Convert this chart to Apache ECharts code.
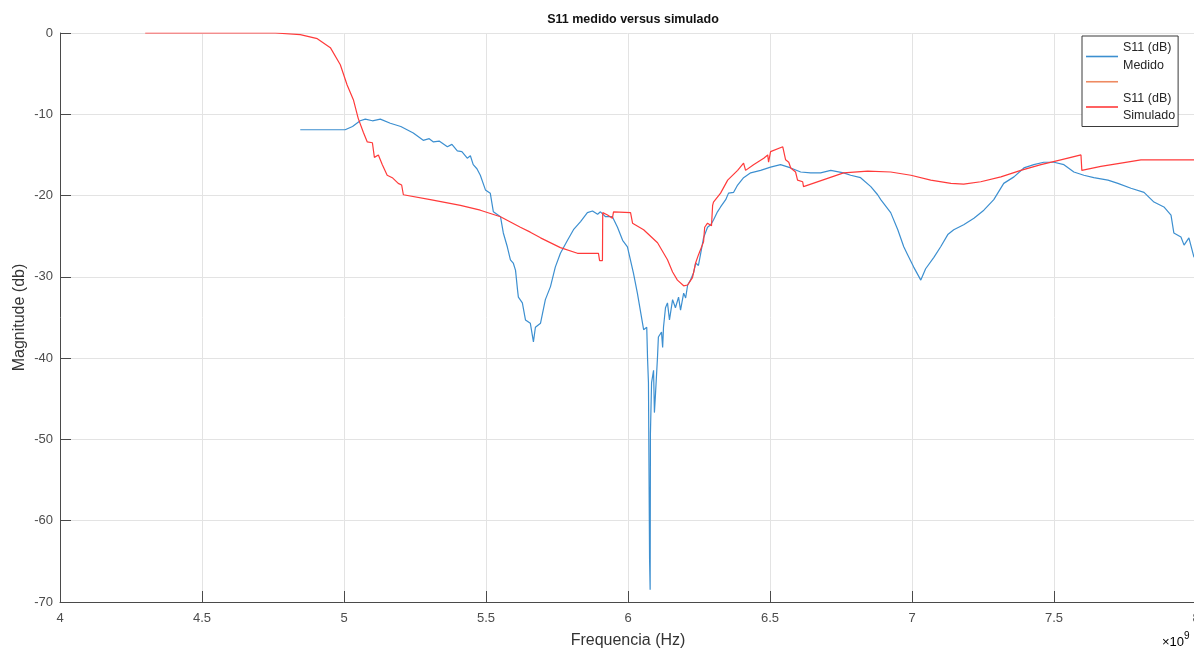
<!DOCTYPE html>
<html>
<head>
<meta charset="utf-8">
<title>S11 medido versus simulado</title>
<script src="https://cdn.jsdelivr.net/npm/echarts@6/dist/echarts.min.js"></script>
<style>
  html, body { margin: 0; padding: 0; background: #ffffff; }
  #chart { width: 1194px; height: 649px; }
</style>
</head>
<body>
<div id="chart"></div>
<script>
// Measured S11 (frequency in GHz, magnitude in dB)
const measFreq = [4.846, 5.004, 5.030, 5.057, 5.075, 5.100, 5.128, 5.163, 5.200, 5.244,
  5.279, 5.300, 5.315, 5.335, 5.364, 5.380, 5.399, 5.415, 5.434, 5.445,
  5.455, 5.468, 5.480, 5.498, 5.515, 5.526, 5.551, 5.561, 5.575, 5.586,
  5.596, 5.604, 5.611, 5.614, 5.628, 5.639, 5.656, 5.667, 5.674, 5.692,
  5.709, 5.727, 5.744, 5.762, 5.787, 5.808, 5.833, 5.857, 5.875, 5.893,
  5.903, 5.921, 5.945, 5.963, 5.981, 5.998, 6.019, 6.033, 6.055, 6.066,
  6.069, 6.072, 6.076, 6.078, 6.079, 6.083, 6.090, 6.093, 6.097, 6.104,
  6.107, 6.118, 6.122, 6.125, 6.132, 6.139, 6.146, 6.157, 6.167, 6.178,
  6.185, 6.196, 6.203, 6.210, 6.220, 6.231, 6.238, 6.248, 6.256, 6.266,
  6.280, 6.291, 6.301, 6.315, 6.326, 6.344, 6.354, 6.372, 6.386, 6.407,
  6.432, 6.467, 6.502, 6.537, 6.573, 6.608, 6.643, 6.678, 6.714, 6.759,
  6.784, 6.819, 6.855, 6.879, 6.890, 6.925, 6.950, 6.971, 6.985, 7.006,
  7.031, 7.048, 7.077, 7.101, 7.126, 7.147, 7.182, 7.218, 7.253, 7.288,
  7.323, 7.359, 7.394, 7.429, 7.464, 7.500, 7.535, 7.570, 7.605, 7.640,
  7.690, 7.725, 7.771, 7.817, 7.852, 7.887, 7.912, 7.922, 7.947, 7.958,
  7.975, 7.993];
const measDb = [-11.9, -11.9, -11.5, -10.8, -10.6, -10.8, -10.6, -11.1, -11.5, -12.3,
  -13.2, -13.0, -13.4, -13.3, -14.0, -13.7, -14.5, -14.6, -15.4, -15.1,
  -16.2, -16.7, -17.5, -19.3, -19.7, -22.0, -22.6, -24.6, -26.3, -27.9,
  -28.3, -29.2, -31.6, -32.5, -33.2, -35.3, -35.7, -38.0, -36.2, -35.7,
  -32.8, -31.2, -28.8, -27.1, -25.5, -24.2, -23.2, -22.1, -21.9, -22.3,
  -22.0, -22.6, -22.6, -23.9, -25.5, -26.3, -29.5, -32.0, -36.5, -36.2,
  -40.2, -43.0, -64.8, -68.5, -49.2, -43.0, -41.5, -46.7, -44.3, -39.8,
  -37.4, -36.8, -38.7, -36.2, -33.8, -33.2, -35.3, -32.8, -33.8, -32.5,
  -34.1, -32.0, -32.6, -31.0, -30.4, -29.5, -28.3, -28.6, -27.1, -25.2,
  -23.9, -23.6, -23.0, -22.0, -21.4, -20.5, -19.7, -19.6, -18.7, -17.8,
  -17.2, -16.9, -16.5, -16.2, -16.6, -17.1, -17.2, -17.2, -16.9, -17.2,
  -17.5, -17.8, -18.9, -19.9, -20.5, -22.1, -24.2, -26.3, -27.3, -28.8,
  -30.4, -29.0, -27.6, -26.3, -24.8, -24.2, -23.6, -22.8, -21.8, -20.5,
  -18.5, -17.7, -16.6, -16.2, -15.9, -15.9, -16.2, -17.1, -17.5, -17.8,
  -18.1, -18.5, -19.1, -19.6, -20.8, -21.4, -22.4, -24.6, -25.1, -26.1,
  -25.2, -27.6];

// Simulated S11 (frequency in GHz, magnitude in dB)
const simFreq = [4.300, 4.758, 4.846, 4.906, 4.952, 4.987, 5.011, 5.033, 5.050, 5.068,
  5.082, 5.100, 5.107, 5.121, 5.135, 5.152, 5.170, 5.191, 5.203, 5.209,
  5.304, 5.410, 5.480, 5.551, 5.621, 5.656, 5.692, 5.762, 5.822, 5.896,
  5.900, 5.910, 5.911, 5.928, 5.945, 5.949, 6.009, 6.016, 6.055, 6.104,
  6.139, 6.157, 6.174, 6.196, 6.210, 6.227, 6.238, 6.248, 6.266, 6.270,
  6.280, 6.294, 6.298, 6.301, 6.326, 6.351, 6.386, 6.407, 6.414, 6.442,
  6.478, 6.492, 6.495, 6.502, 6.545, 6.555, 6.566, 6.573, 6.590, 6.597,
  6.615, 6.618, 6.759, 6.844, 6.925, 6.996, 7.066, 7.137, 7.182, 7.242,
  7.313, 7.383, 7.454, 7.524, 7.595, 7.598, 7.665, 7.736, 7.806, 7.922,
  8.000];
const simDb = [0.0, 0.0, -0.2, -0.7, -1.8, -3.9, -6.4, -8.2, -10.5, -12.2,
  -13.4, -13.5, -15.3, -15.0, -16.2, -17.5, -17.8, -18.5, -18.7, -19.9,
  -20.5, -21.2, -21.8, -22.6, -23.9, -24.5, -25.2, -26.4, -27.1, -27.1,
  -28.0, -28.0, -22.1, -22.4, -22.8, -22.0, -22.1, -23.4, -24.2, -25.8,
  -27.9, -29.4, -30.4, -31.1, -31.0, -30.1, -28.3, -27.3, -25.7, -23.9,
  -23.4, -23.7, -21.2, -20.8, -19.7, -18.1, -16.9, -16.0, -16.9, -16.2,
  -15.4, -15.0, -15.9, -14.6, -14.0, -15.6, -15.9, -16.6, -17.1, -18.1,
  -18.3, -18.9, -17.2, -17.0, -17.1, -17.5, -18.1, -18.5, -18.6, -18.3,
  -17.7, -16.9, -16.2, -15.6, -15.0, -16.9, -16.4, -16.0, -15.6, -15.6,
  -15.6];

// Axis ticks
const xTicks = { min: 4, max: 8, step: 0.5 };
const yTicks = { min: -70, max: 0, step: 10 };

const seriesNames = ['S11 (dB)\nMedido', ' ', 'S11 (dB)\nSimulado'];

const zip = (xs, ys) => xs.map((x, i) => [x, ys[i]]);

const FONT = '"Liberation Sans", Arial, Helvetica, sans-serif';
const chart = echarts.init(document.getElementById('chart'), null, { renderer: 'canvas' });

chart.setOption({
  backgroundColor: '#ffffff',
  animation: false,
  title: {
    text: 'S11 medido versus simulado',
    left: 628,
    top: 8,
    textAlign: 'center',
    textStyle: { fontFamily: FONT, fontSize: 12.5, fontWeight: 'bold', color: '#111' }
  },
  grid: { left: 60, right: -2, top: 33, bottom: 47, containLabel: false, outerBoundsMode: 'none' },
  legend: {
    orient: 'vertical',
    left: 1082,
    top: 36,
    width: 98,
    padding: [3, 3, 2, 4],
    itemGap: -1,
    itemWidth: 32,
    itemHeight: 1.6,
    icon: 'rect',
    backgroundColor: '#ffffff',
    borderColor: '#3a3a3a',
    borderWidth: 1,
    borderRadius: 0,
    data: seriesNames,
    textStyle: { fontFamily: FONT, fontSize: 12.5, color: '#262626', lineHeight: 17.5 }
  },
  xAxis: {
    type: 'value',
    min: xTicks.min,
    max: xTicks.max,
    interval: xTicks.step,
    name: 'Frequencia (Hz)',
    nameLocation: 'middle',
    nameGap: 31,
    nameMoveOverlap: false,
    nameTextStyle: { fontFamily: FONT, fontSize: 16, color: '#333' },
    axisLine: { show: true, onZero: false, lineStyle: { color: '#4a4a4a', width: 1 } },
    axisTick: { show: true, inside: true, length: 11, lineStyle: { color: '#4a4a4a' } },
    axisLabel: {
      fontFamily: FONT, fontSize: 13, color: '#4d4d4d', margin: 10,
      formatter: v => String(+v.toFixed(1))
    },
    splitLine: { show: true, lineStyle: { color: '#e3e3e3', width: 1 } }
  },
  yAxis: {
    type: 'value',
    min: yTicks.min,
    max: yTicks.max,
    interval: yTicks.step,
    name: 'Magnitude (db)',
    nameLocation: 'middle',
    nameGap: 32,
    nameMoveOverlap: false,
    nameRotate: 90,
    nameTextStyle: { fontFamily: FONT, fontSize: 16, color: '#333' },
    axisLine: { show: true, onZero: false, lineStyle: { color: '#4a4a4a', width: 1 } },
    axisTick: { show: true, inside: true, length: 11, lineStyle: { color: '#4a4a4a' } },
    axisLabel: { fontFamily: FONT, fontSize: 13, color: '#4d4d4d', margin: 7 },
    splitLine: { show: true, lineStyle: { color: '#e3e3e3', width: 1 } }
  },
  series: [
    {
      name: seriesNames[0],
      type: 'line',
      data: zip(measFreq, measDb),
      showSymbol: false,
      symbol: 'none',
      color: '#3c8fd0',
      lineStyle: { color: '#3c8fd0', width: 1.2 },
      z: 3
    },
    {
      name: seriesNames[1],
      type: 'line',
      data: [],
      symbol: 'none',
      color: '#ee8a62',
      lineStyle: { color: '#ee8a62', width: 1.2 }
    },
    {
      name: seriesNames[2],
      type: 'line',
      data: zip(simFreq, simDb),
      showSymbol: false,
      symbol: 'none',
      color: '#ff3a3a',
      lineStyle: { color: '#ff3a3a', width: 1.2 },
      z: 4
    }
  ],
  graphic: [
    {
      type: 'text',
      left: 1162,
      top: 631,
      style: {
        text: '{a|×10}{b|9}',
        rich: {
          a: { fontFamily: FONT, fontSize: 13, color: '#4d4d4d', padding: [6, 0, 0, 0] },
          b: { fontFamily: FONT, fontSize: 10, color: '#4d4d4d', padding: [0, 0, 6, 0] }
        }
      }
    }
  ]
});
</script>
</body>
</html>
